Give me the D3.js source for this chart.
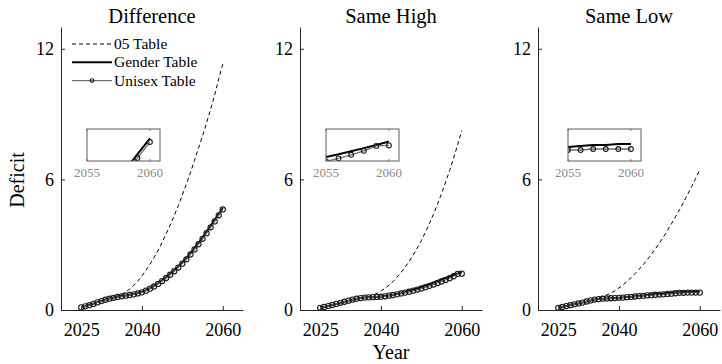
<!DOCTYPE html>
<html>
<head>
<meta charset="utf-8">
<script src="https://cdn.jsdelivr.net/npm/d3@7"></script>
<style>
    body { margin: 0; background: #fff; }
    svg text { font-family: "Liberation Serif", "Times New Roman", serif; fill: #000; }
</style>
</head>
<body>
<div id="chart"></div>
<script>
// Chart data
const years = [2025, 2026, 2027, 2028, 2029, 2030, 2031, 2032, 2033, 2034, 2035, 2036,
    2037, 2038, 2039, 2040, 2041, 2042, 2043, 2044, 2045, 2046, 2047, 2048,
    2049, 2050, 2051, 2052, 2053, 2054, 2055, 2056, 2057, 2058, 2059, 2060];

const panelTitles = ['Difference', 'Same High', 'Same Low'];
const seriesNames = ['05 Table', 'Gender Table', 'Unisex Table'];
const xTicks = [2025, 2040, 2060];
const yTicks = [0, 6, 12];
const insetTicks = [2055, 2060];

const diffTable05 = [0.12, 0.17, 0.22, 0.28, 0.35, 0.41, 0.47, 0.52, 0.58, 0.65, 0.72, 0.83,
    0.96, 1.13, 1.33, 1.56, 1.82, 2.10, 2.41, 2.74, 3.11, 3.50, 3.90, 4.34,
    4.79, 5.28, 5.79, 6.30, 6.87, 7.44, 8.00, 8.60, 9.22, 9.88, 10.62, 11.30];
const diffGender = [0.12, 0.17, 0.23, 0.29, 0.36, 0.42, 0.48, 0.53, 0.57, 0.61, 0.64, 0.67,
    0.70, 0.73, 0.77, 0.83, 0.91, 1.00, 1.11, 1.23, 1.36, 1.50, 1.65, 1.82,
    1.99, 2.18, 2.38, 2.60, 2.83, 3.08, 3.33, 3.60, 3.87, 4.14, 4.41, 4.68];
const diffUnisex = [0.12, 0.17, 0.22, 0.28, 0.35, 0.41, 0.47, 0.52, 0.56, 0.60, 0.63, 0.66,
    0.69, 0.72, 0.76, 0.81, 0.89, 0.98, 1.08, 1.20, 1.33, 1.47, 1.62, 1.78,
    1.95, 2.13, 2.33, 2.55, 2.78, 3.02, 3.27, 3.53, 3.80, 4.07, 4.35, 4.62];

const highTable05 = [0.10, 0.14, 0.18, 0.23, 0.28, 0.33, 0.38, 0.43, 0.48, 0.52, 0.56, 0.58,
    0.62, 0.68, 0.76, 0.87, 0.99, 1.14, 1.31, 1.51, 1.73, 1.97, 2.23, 2.53,
    2.85, 3.19, 3.57, 3.97, 4.40, 4.86, 5.35, 5.87, 6.41, 6.99, 7.60, 8.24];
const highGender = [0.10, 0.14, 0.18, 0.23, 0.28, 0.33, 0.38, 0.43, 0.48, 0.52, 0.55, 0.57,
    0.58, 0.59, 0.60, 0.62, 0.64, 0.67, 0.70, 0.73, 0.77, 0.82, 0.87, 0.93,
    0.99, 1.05, 1.12, 1.19, 1.26, 1.33, 1.41, 1.47, 1.54, 1.61, 1.68, 1.76];
const highUnisex = [0.10, 0.14, 0.18, 0.23, 0.28, 0.33, 0.38, 0.43, 0.48, 0.52, 0.55, 0.57,
    0.58, 0.59, 0.60, 0.61, 0.63, 0.66, 0.69, 0.72, 0.76, 0.80, 0.84, 0.89,
    0.94, 0.99, 1.05, 1.11, 1.17, 1.24, 1.31, 1.38, 1.46, 1.55, 1.66, 1.67];

const lowTable05 = [0.10, 0.14, 0.18, 0.22, 0.26, 0.30, 0.34, 0.39, 0.44, 0.49, 0.57, 0.62,
    0.69, 0.78, 0.88, 1.01, 1.15, 1.31, 1.48, 1.67, 1.87, 2.08, 2.31, 2.55,
    2.80, 3.07, 3.35, 3.65, 3.96, 4.28, 4.61, 4.95, 5.31, 5.67, 6.05, 6.44];
const lowGender = [0.10, 0.14, 0.18, 0.22, 0.26, 0.30, 0.34, 0.39, 0.44, 0.48, 0.50, 0.52,
    0.53, 0.54, 0.55, 0.56, 0.58, 0.60, 0.61, 0.63, 0.65, 0.67, 0.69, 0.71,
    0.73, 0.75, 0.76, 0.78, 0.79, 0.81, 0.82, 0.83, 0.84, 0.84, 0.85, 0.85];
const lowUnisex = [0.10, 0.14, 0.18, 0.22, 0.26, 0.30, 0.34, 0.39, 0.44, 0.48, 0.50, 0.52,
    0.53, 0.54, 0.55, 0.56, 0.57, 0.59, 0.60, 0.62, 0.64, 0.65, 0.67, 0.68,
    0.70, 0.71, 0.72, 0.74, 0.75, 0.77, 0.79, 0.79, 0.80, 0.80, 0.80, 0.80];

// Zoom window of each inset (y range)
const insetYDomains = [[4.3, 4.84], [1.32, 2.04], [0.68, 1.0]];

const panels = [
    { title: panelTitles[0], table05: diffTable05, gender: diffGender, unisex: diffUnisex, insetY: insetYDomains[0] },
    { title: panelTitles[1], table05: highTable05, gender: highGender, unisex: highUnisex, insetY: insetYDomains[1] },
    { title: panelTitles[2], table05: lowTable05, gender: lowGender, unisex: lowUnisex, insetY: insetYDomains[2] }
];

// Layout
const width = 722;
const height = 364;
const plotTop = 27;
const plotBottom = 310;
const plotWidth = 182;
const panelLefts = [61, 300, 538];
const insetLefts = [26, 26, 30];
const inset = { top: 129, width: 73, height: 32 };

const colors = {
    axis: '#262626',
    gender: '#000',
    unisex: '#6e6e6e',
    marker: '#1a1a1a',
    insetBox: '#5a5a5a',
    insetText: '#8a8a8a'
};

const svg = d3.select('#chart')
    .append('svg')
    .attr('width', width)
    .attr('height', height);

/**
 * Draw the three series into a group with the given scales
 */
function drawSeries(g, p, x, y, r) {
    const rows = years.map((yr, i) => ({ year: yr, t05: p.table05[i], gender: p.gender[i], unisex: p.unisex[i] }));

    g.append('path')
        .datum(rows)
        .attr('fill', 'none')
        .attr('stroke', '#000')
        .attr('stroke-width', 1)
        .attr('stroke-dasharray', '4,3')
        .attr('d', d3.line().x(d => x(d.year)).y(d => y(d.t05)));

    g.append('path')
        .datum(rows)
        .attr('fill', 'none')
        .attr('stroke', colors.gender)
        .attr('stroke-width', 2)
        .attr('d', d3.line().x(d => x(d.year)).y(d => y(d.gender)));

    g.append('path')
        .datum(rows)
        .attr('fill', 'none')
        .attr('stroke', colors.unisex)
        .attr('stroke-width', 1.3)
        .attr('d', d3.line().x(d => x(d.year)).y(d => y(d.unisex)));

    g.selectAll('.dot')
        .data(rows)
        .enter()
        .append('circle')
        .attr('class', 'dot')
        .attr('cx', d => x(d.year))
        .attr('cy', d => y(d.unisex))
        .attr('r', r)
        .attr('fill', 'none')
        .attr('stroke', colors.marker)
        .attr('stroke-width', 1.1);
}

/**
 * Render one panel with its zoom inset
 */
function renderPanel(p, i) {
    const g = svg.append('g')
        .attr('transform', `translate(${panelLefts[i]}, 0)`);

    const x = d3.scaleLinear().domain([2020, 2065]).range([0, plotWidth]);
    const y = d3.scaleLinear().domain([0, 13]).range([plotBottom, plotTop]);

    // Axes (ticks point inward)
    const yAxis = g.append('g')
        .call(d3.axisLeft(y).tickValues(yTicks).tickSizeInner(-4).tickSizeOuter(0).tickPadding(7));
    const xAxis = g.append('g')
        .attr('transform', `translate(0, ${plotBottom})`)
        .call(d3.axisBottom(x).tickValues(xTicks).tickSizeInner(-4).tickSizeOuter(0)
            .tickPadding(13).tickFormat(d3.format('d')));

    [xAxis, yAxis].forEach(a => {
        a.selectAll('.domain, .tick line').attr('stroke', colors.axis);
        a.selectAll('text')
            .style('font-size', '18px')
            .style('font-family', '"Liberation Serif", serif')
            .attr('fill', '#000');
    });

    drawSeries(g, p, x, y, 2.6);

    // Title
    g.append('text')
        .attr('x', plotWidth / 2)
        .attr('y', 23)
        .attr('text-anchor', 'middle')
        .style('font-size', '20.5px')
        .text(p.title);

    // Inset: zoom of the last years
    const ig = g.append('g')
        .attr('transform', `translate(${insetLefts[i]}, ${inset.top})`);
    const ix = d3.scaleLinear().domain([2055, 2060.8]).range([0, inset.width]);
    const iy = d3.scaleLinear().domain(p.insetY).range([inset.height, 0]);

    ig.append('rect')
        .attr('width', inset.width)
        .attr('height', inset.height)
        .attr('fill', '#fff');

    ig.append('clipPath')
        .attr('id', `clip-${i}`)
        .append('rect')
        .attr('width', inset.width)
        .attr('height', inset.height);

    const inner = ig.append('g').attr('clip-path', `url(#clip-${i})`);
    drawSeries(inner, p, ix, iy, 2.4);

    // Small tick marks on top and bottom of the inset box
    insetTicks.forEach(t => {
        ig.append('line')
            .attr('x1', ix(t)).attr('x2', ix(t))
            .attr('y1', 0).attr('y2', 2)
            .attr('stroke', colors.insetBox).attr('stroke-width', 0.8);
        ig.append('line')
            .attr('x1', ix(t)).attr('x2', ix(t))
            .attr('y1', inset.height).attr('y2', inset.height - 2)
            .attr('stroke', colors.insetBox).attr('stroke-width', 0.8);
        ig.append('text')
            .attr('x', ix(t))
            .attr('y', inset.height + 16)
            .attr('text-anchor', 'middle')
            .attr('fill', colors.insetText)
            .style('fill', colors.insetText)
            .style('font-size', '13px')
            .text(t);
    });

    ig.append('rect')
        .attr('width', inset.width)
        .attr('height', inset.height)
        .attr('fill', 'none')
        .attr('stroke', colors.insetBox)
        .attr('stroke-width', 1);
}

panels.forEach((p, i) => renderPanel(p, i));

// Legend (first panel)
const legend = svg.append('g')
    .attr('transform', 'translate(72, 44)');

seriesNames.forEach((name, k) => {
    const ly = k * 18.3;
    const line = legend.append('line')
        .attr('x1', 0).attr('x2', 40)
        .attr('y1', ly).attr('y2', ly);
    if (k === 0) {
        line.attr('stroke', '#000').attr('stroke-width', 1).attr('stroke-dasharray', '4,3');
    } else if (k === 1) {
        line.attr('stroke', colors.gender).attr('stroke-width', 2);
    } else {
        line.attr('stroke', colors.unisex).attr('stroke-width', 1.3);
        legend.append('circle')
            .attr('cx', 20).attr('cy', ly).attr('r', 1.8)
            .attr('fill', 'none').attr('stroke', colors.marker).attr('stroke-width', 1.1);
    }
    legend.append('text')
        .attr('x', 42)
        .attr('y', ly)
        .attr('dy', '0.32em')
        .style('font-size', '15.5px')
        .text(name);
});

// Axis labels
svg.append('text')
    .attr('x', 391)
    .attr('y', 359)
    .attr('text-anchor', 'middle')
    .style('font-size', '20px')
    .text('Year');

svg.append('text')
    .attr('transform', 'translate(24, 180) rotate(-90)')
    .attr('text-anchor', 'middle')
    .style('font-size', '20px')
    .text('Deficit');
</script>
</body>
</html>
